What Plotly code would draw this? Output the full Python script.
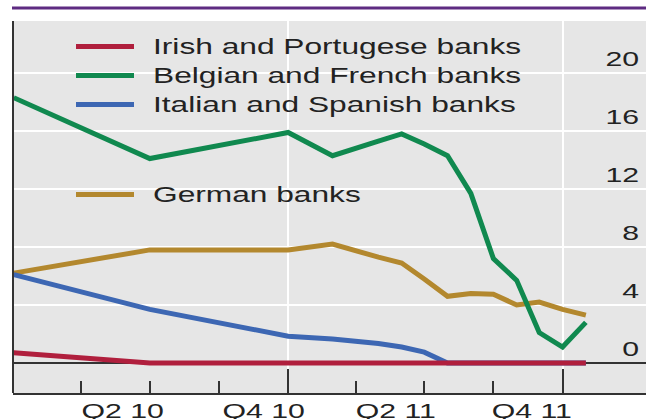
import plotly.graph_objects as go

# Monthly observation dates (first of month)
months = ["2010-01-01", "2010-07-01", "2011-01-01", "2011-03-01", "2011-05-01",
          "2011-06-01", "2011-07-01", "2011-08-01", "2011-09-01", "2011-10-01",
          "2011-11-01", "2011-12-01", "2012-01-01", "2012-02-01"]

irish_portuguese = [0.7, 0.0, 0.0, 0.0, 0.0, 0.0, 0.0, 0.0, 0.0, 0.0, 0.0, 0.0, 0.0, 0.0]
belgian_french = [18.3, 14.1, 15.9, 14.3, 15.3, 15.8, 15.1, 14.3, 11.7, 7.2, 5.7, 2.1, 1.1, 2.8]
italian_spanish = [6.1, 3.7, 1.85, 1.65, 1.35, 1.1, 0.75, 0.0, 0.0, 0.0, 0.0, 0.0, 0.0, 0.0]
german = [6.2, 7.8, 7.8, 8.2, 7.3, 6.9, 5.8, 4.6, 4.8, 4.75, 4.0, 4.2, 3.7, 3.3]

series_names = ["Irish and Portugese banks", "Belgian and French banks",
                "Italian and Spanish banks", "German banks"]
series_colors = ["#b01f3d", "#10894f", "#3d67b3", "#b3882e"]

y_ticks = [0, 4, 8, 12, 16, 20]
quarter_labels = ["Q2 10", "Q4 10", "Q2 11", "Q4 11"]
quarter_label_dates = ["2010-05-25", "2010-11-29", "2011-05-25", "2011-11-21"]

FONT = "Liberation Sans, Arial, sans-serif"
W, H = 646, 419
L, R, T, B = 13, 0, 21, 26
PW, PH = W - L - R, H - T - B


def px_x(px):
    return (px - L) / PW


def px_y(py):
    return (H - B - py) / PH


values = {
    series_names[0]: irish_portuguese,
    series_names[1]: belgian_french,
    series_names[2]: italian_spanish,
    series_names[3]: german,
}

fig = go.Figure()
# drawing order: German, Italian/Spanish, Belgian/French, Irish/Portuguese on top
for idx in [3, 2, 1, 0]:
    name = series_names[idx]
    fig.add_trace(go.Scatter(
        x=months, y=values[name], mode="lines", name=name,
        line=dict(color=series_colors[idx], width=5),
        showlegend=False, hoverinfo="skip",
    ))

fig.update_layout(
    width=W, height=H,
    margin=dict(l=L, r=R, t=T, b=B, pad=0),
    paper_bgcolor="white", plot_bgcolor="#e6e6e6",
    showlegend=False,
    font=dict(family=FONT, size=21, color="#222222"),
)

fig.update_xaxes(
    type="date", range=["2009-12-31", "2012-04-21"],
    tickmode="array", tickvals=["2011-01-01", "2012-01-01"],
    showticklabels=False,
    ticks="inside", ticklen=24, tickwidth=2, tickcolor="#333333",
    showgrid=True, gridcolor="white", gridwidth=2,
    showline=True, linecolor="#333333", linewidth=2,
    zeroline=False,
    minor=dict(tickmode="linear", tick0="2010-01-01", dtick="M3",
               ticks="inside", ticklen=12, tickwidth=2, tickcolor="#333333",
               showgrid=False),
)

fig.update_yaxes(
    range=[-2.07, 23.59], side="right",
    tickmode="array", tickvals=y_ticks,
    ticks="", ticklabelposition="inside", ticklabelstandoff=4, ticklabelshift=-14,
    tickfont=dict(size=21, color="#222222"),
    showgrid=True, gridcolor="white", gridwidth=2,
    zeroline=True, zerolinecolor="#333333", zerolinewidth=2,
    showline=False,
)

# left frame edge and purple header rule
fig.add_shape(type="line", xref="paper", yref="paper", x0=0, x1=0, y0=0, y1=1,
              line=dict(color="#333333", width=2))
fig.add_shape(type="line", xref="paper", yref="paper", x0=px_x(12), x1=1,
              y0=px_y(8), y1=px_y(8), line=dict(color="#5e2b82", width=3))

# legend: swatch + label for each series
legend_rows = [46.5, 75.5, 104.5, 194.5]
for name, color, row in zip(series_names, series_colors, legend_rows):
    fig.add_shape(type="line", xref="paper", yref="paper",
                  x0=px_x(76), x1=px_x(134), y0=px_y(row), y1=px_y(row),
                  line=dict(color=color, width=5))
    fig.add_annotation(text=name, xref="paper", yref="paper",
                       x=px_x(151), y=px_y(row), xanchor="left", yanchor="middle",
                       align="left", showarrow=False,
                       font=dict(size=22, color="#222222", family=FONT))

# quarter labels below the axis
for lab, pos in zip(quarter_labels, quarter_label_dates):
    fig.add_annotation(text=lab, x=pos, xref="x", yref="paper", y=px_y(397),
                       xanchor="center", yanchor="top", showarrow=False,
                       font=dict(size=21, color="#222222", family=FONT))

# widen glyphs horizontally to the wide lettering of the chart
widen_js = """
(function(){
  var gd = document.getElementById('{plot_id}');
  function widen(){
    gd.querySelectorAll('text').forEach(function(t){
      if (t.getAttribute('data-wide')) return;
      var w = t.getComputedTextLength();
      if (!w) return;
      t.setAttribute('textLength', (w * 1.44).toFixed(1));
      t.setAttribute('lengthAdjust', 'spacingAndGlyphs');
      t.setAttribute('data-wide', '1');
    });
  }
  widen();
  if (gd.on) gd.on('plotly_afterplot', widen);
  setTimeout(widen, 50);
})();
"""

fig.write_html("out.html", post_script=widen_js)
